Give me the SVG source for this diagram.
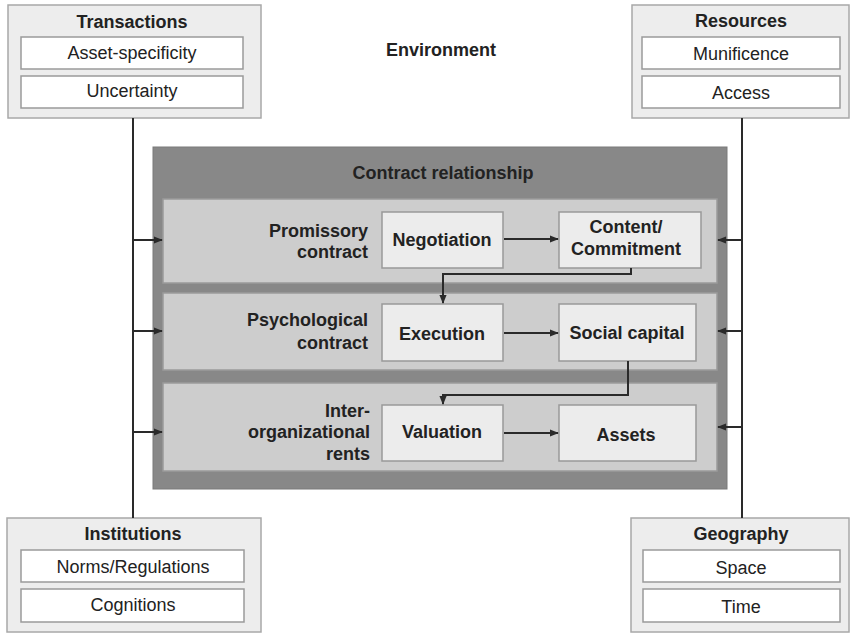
<svg xmlns="http://www.w3.org/2000/svg" width="852" height="633" viewBox="0 0 852 633">
  <defs>
    <marker id="arr" viewBox="0 0 10 10" refX="9" refY="5" markerWidth="9" markerHeight="9" markerUnits="userSpaceOnUse" orient="auto">
      <path d="M0,1 L10,5 L0,9 z" fill="#2a2a2a"/>
    </marker>
  </defs>
  <style>
    text { font-family: "Liberation Sans", Arial, sans-serif; font-size: 18px; fill: #222; }
    .b { font-weight: bold; }
    .mid { text-anchor: middle; }
    .end { text-anchor: end; }
    .env { fill: #ededed; stroke: #a8a8a8; stroke-width: 1.5; }
    .item { fill: #ffffff; stroke: #9a9a9a; stroke-width: 1.5; }
    .frame { fill: #888888; stroke: #7a7a7a; stroke-width: 1; }
    .band { fill: #cdcdcd; stroke: #9a9a9a; stroke-width: 1.5; }
    .step { fill: #ececec; stroke: #999999; stroke-width: 1.5; }
    .wire { fill: none; stroke: #2a2a2a; stroke-width: 2; }
    .flow { fill: none; stroke: #2a2a2a; stroke-width: 2; marker-end: url(#arr); }
  </style>

  <rect width="852" height="633" fill="#ffffff"/>

  <!-- environment title -->
  <text class="b mid" x="441" y="56">Environment</text>

  <!-- outer environment factors -->
  <g id="transactions">
    <rect class="env" x="8" y="5" width="253" height="113"/>
    <text class="b mid" x="132" y="28">Transactions</text>
    <rect class="item" x="21" y="37" width="222" height="32"/>
    <text class="mid" x="132" y="59">Asset-specificity</text>
    <rect class="item" x="21" y="76" width="222" height="32"/>
    <text class="mid" x="132" y="97">Uncertainty</text>
  </g>

  <g id="resources">
    <rect class="env" x="632" y="5" width="217" height="113"/>
    <text class="b mid" x="741" y="27">Resources</text>
    <rect class="item" x="642" y="37" width="198" height="32"/>
    <text class="mid" x="741" y="60">Munificence</text>
    <rect class="item" x="642" y="76" width="198" height="32"/>
    <text class="mid" x="741" y="99">Access</text>
  </g>

  <g id="institutions">
    <rect class="env" x="7" y="518" width="254" height="114"/>
    <text class="b mid" x="133" y="540">Institutions</text>
    <rect class="item" x="21" y="550" width="223" height="32"/>
    <text class="mid" x="133" y="573">Norms/Regulations</text>
    <rect class="item" x="21" y="589" width="223" height="33"/>
    <text class="mid" x="133" y="611">Cognitions</text>
  </g>

  <g id="geography">
    <rect class="env" x="631" y="518" width="218" height="114"/>
    <text class="b mid" x="741" y="540">Geography</text>
    <rect class="item" x="643" y="550" width="197" height="32"/>
    <text class="mid" x="741" y="574">Space</text>
    <rect class="item" x="643" y="589" width="197" height="33"/>
    <text class="mid" x="741" y="613">Time</text>
  </g>

  <!-- contract relationship frame -->
  <g id="contract-relationship">
    <rect class="frame" x="153" y="147" width="574" height="342"/>
    <text class="b mid" x="443" y="179">Contract relationship</text>
  </g>

  <!-- layers -->
  <g id="promissory">
    <rect class="band" x="163" y="199" width="554" height="84"/>
    <text class="b end" x="368" y="237">Promissory</text>
    <text class="b end" x="368" y="258">contract</text>
  </g>
  <g id="psychological">
    <rect class="band" x="163" y="293" width="554" height="77"/>
    <text class="b end" x="368" y="326">Psychological</text>
    <text class="b end" x="368" y="349">contract</text>
  </g>
  <g id="rents">
    <rect class="band" x="163" y="383" width="554" height="88"/>
    <text class="b end" x="370" y="417">Inter-</text>
    <text class="b end" x="370" y="438">organizational</text>
    <text class="b end" x="370" y="460">rents</text>
  </g>

  <!-- steps -->
  <g id="negotiation">
    <rect class="step" x="382" y="212" width="121" height="56"/>
    <text class="b mid" x="442" y="246">Negotiation</text>
  </g>
  <g id="content">
    <rect class="step" x="559" y="212" width="142" height="56"/>
    <text class="b mid" x="626" y="233">Content/</text>
    <text class="b mid" x="626" y="255">Commitment</text>
  </g>
  <g id="execution">
    <rect class="step" x="382" y="304" width="121" height="57"/>
    <text class="b mid" x="442" y="340">Execution</text>
  </g>
  <g id="social-capital">
    <rect class="step" x="559" y="304" width="137" height="57"/>
    <text class="b mid" x="627" y="339">Social capital</text>
  </g>
  <g id="valuation">
    <rect class="step" x="382" y="405" width="121" height="56"/>
    <text class="b mid" x="442" y="438">Valuation</text>
  </g>
  <g id="assets">
    <rect class="step" x="559" y="405" width="137" height="56"/>
    <text class="b mid" x="626" y="441">Assets</text>
  </g>

  <!-- connectors: environment spines feeding the layers, and flows between steps -->
  <g id="connectors">
    <line class="wire" x1="133" y1="118" x2="133" y2="518"/>
    <line class="wire" x1="742" y1="118" x2="742" y2="518"/>
    <line class="flow" x1="133" y1="240" x2="162" y2="240"/>
    <line class="flow" x1="133" y1="331" x2="162" y2="331"/>
    <line class="flow" x1="133" y1="432" x2="162" y2="432"/>
    <line class="flow" x1="742" y1="240" x2="718" y2="240"/>
    <line class="flow" x1="742" y1="331" x2="718" y2="331"/>
    <line class="flow" x1="742" y1="427" x2="718" y2="427"/>
    <line class="flow" x1="504" y1="239" x2="558" y2="239"/>
    <line class="flow" x1="504" y1="333" x2="558" y2="333"/>
    <line class="flow" x1="504" y1="433" x2="558" y2="433"/>
    <polyline class="flow" points="631,268 631,274 443,274 443,303"/>
    <polyline class="flow" points="628,361 628,395 443,395 443,404"/>
  </g>
</svg>
